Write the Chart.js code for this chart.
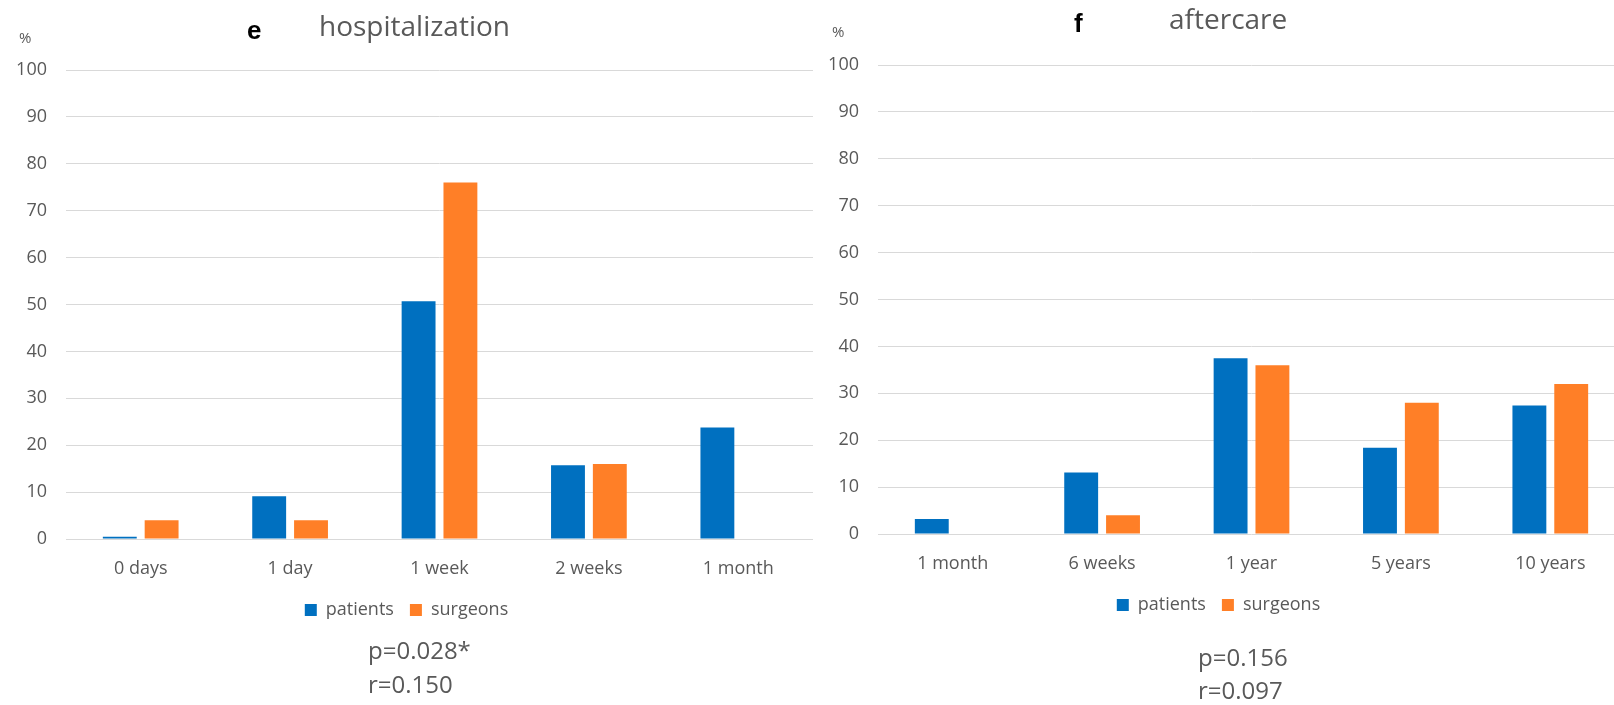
<!DOCTYPE html>
<html>
<head>
<meta charset="utf-8">
<script src="https://cdn.jsdelivr.net/npm/chart.js@4.4.1/dist/chart.umd.min.js"></script>
<style>
  html, body { margin: 0; padding: 0; background: #fff; overflow: hidden; }
  body { width: 1614px; height: 705px; position: relative; }
  .box { position: absolute; width: 840px; height: 705px; }
  .txt { position: absolute; white-space: nowrap; line-height: 1; font-family: "Open Sans", sans-serif; color: #595959; }
  .lbl { font-family: "Liberation Sans", Arial, sans-serif; font-weight: bold; color: #000; }
</style>
</head>
<body>
<div class="box" style="left:0px; top:0px;"><canvas id="chartE"></canvas></div>
<div class="box" style="left:812px; top:-5px;"><canvas id="chartF"></canvas></div>

<div class="txt" style="left:19px; top:30px; font-size:15px;">%</div>
<div class="txt lbl" style="left:247px; top:17px; font-size:26px;">e</div>
<div class="txt" style="left:319px; top:11px; font-size:28px;">hospitalization</div>
<div class="txt" style="left:368px; top:638px; font-size:24px;">p=0.028*</div>
<div class="txt" style="left:368px; top:672px; font-size:24px;">r=0.150</div>

<div class="txt" style="left:832px; top:24px; font-size:15px;">%</div>
<div class="txt lbl" style="left:1074px; top:10px; font-size:26px;">f</div>
<div class="txt" style="left:1169px; top:4px; font-size:28px;">aftercare</div>
<div class="txt" style="left:1198px; top:645px; font-size:24px;">p=0.156</div>
<div class="txt" style="left:1198px; top:678px; font-size:24px;">r=0.097</div>

<script>
// e: hospitalization
const hospLabels = ["0 days", "1 day", "1 week", "2 weeks", "1 month"];
const hospPatients = [0.5, 9.1, 50.7, 15.7, 23.8];
const hospSurgeons = [4, 4, 76, 16, 0];

// f: aftercare
const careLabels = ["1 month", "6 weeks", "1 year", "5 years", "10 years"];
const carePatients = [3.2, 13.1, 37.5, 18.4, 27.4];
const careSurgeons = [0, 4, 36, 28, 32];

const yTicks = [0, 10, 20, 30, 40, 50, 60, 70, 80, 90, 100];

const BLUE = "#0070c0";
const ORANGE = "#ff7f27";
const GREY = "#595959";

Chart.defaults.font.family = "'Open Sans', sans-serif";
Chart.defaults.color = GREY;

const makeChart = (id, labels, patients, surgeons) => {
  const canvas = document.getElementById(id);
  return new Chart(canvas, {
    type: "bar",
    data: {
      labels: labels,
      datasets: [
        { label: "patients", data: patients, backgroundColor: BLUE },
        { label: "surgeons", data: surgeons, backgroundColor: ORANGE },
      ],
    },
    options: {
      responsive: true,
      maintainAspectRatio: false,
      animation: false,
      datasets: {
        bar: { categoryPercentage: 0.56, barPercentage: 0.81 },
      },
      layout: { padding: { top: 70, right: 27, bottom: 76, left: 0 } },
      plugins: {
        legend: {
          position: "bottom",
          labels: {
            boxWidth: 12,
            boxHeight: 12,
            padding: 16,
            color: GREY,
            font: { size: 18 },
          },
        },
        tooltip: { enabled: false },
      },
      scales: {
        x: {
          grid: { display: false },
          border: { display: false },
          ticks: { padding: 11.5, font: { size: 18 }, color: GREY },
          afterFit: (scale) => { scale.height = 46; },
        },
        y: {
          min: 0,
          max: 100,
          afterBuildTicks: (scale) => { scale.ticks = yTicks.map((v) => ({ value: v })); },
          grid: { color: "#d9d9d9", lineWidth: 1, drawTicks: false },
          border: { display: false },
          ticks: { padding: 19, font: { size: 18 }, color: GREY },
          afterFit: (scale) => { scale.width = 66; },
        },
      },
    },
  });
};

makeChart("chartE", hospLabels, hospPatients, hospSurgeons);
makeChart("chartF", careLabels, carePatients, careSurgeons);
</script>
</body>
</html>
